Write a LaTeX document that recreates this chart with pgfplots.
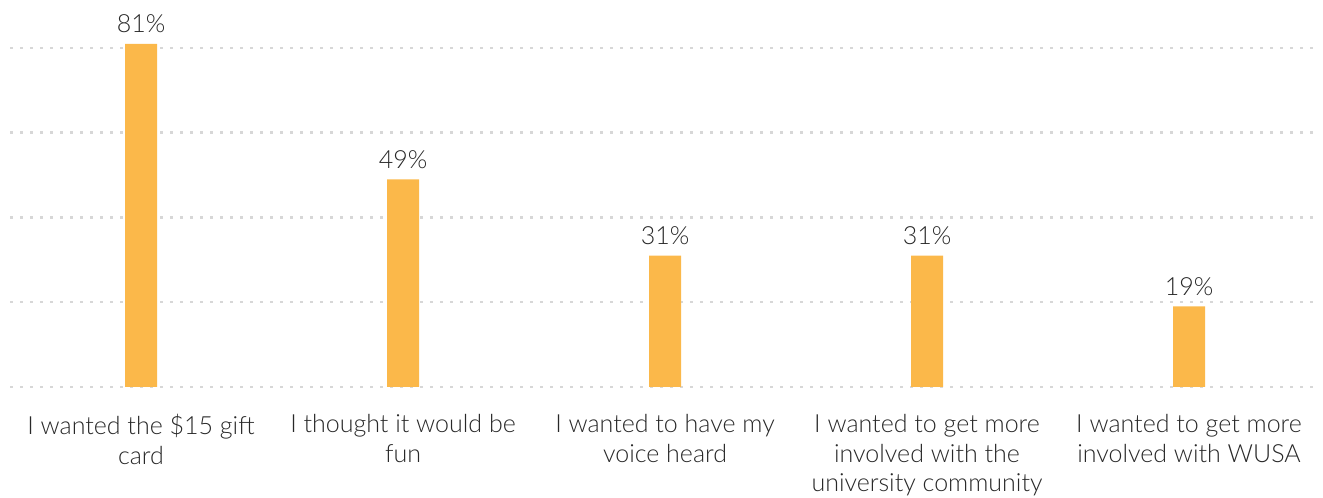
\documentclass[border=0pt]{standalone}
\usepackage{pgfplots}
\pgfplotsset{compat=1.18}
\usepackage{fontspec}
\setmainfont{Lato}[UprightFont=* Light]
\definecolor{barc}{RGB}{251,184,74}
\definecolor{txt}{RGB}{40,40,40}
\definecolor{gridc}{RGB}{215,215,215}
\begin{document}
\begin{tikzpicture}
\begin{axis}[
 scale only axis, width=1310pt, height=339pt,
 xmin=-0.5, xmax=4.5, ymin=0, ymax=80,
 axis line style={draw=none},
 ytick={0,20,40,60,80}, yticklabels={},
 ymajorgrids,
 major grid style={gridc, line width=2.5pt, dash pattern=on 2.5pt off 7.5pt},
 major tick length=0pt,
 xtick={0,1,2,3,4},
 xticklabels={{I wanted the \$15 gift\\card},{I thought it would be\\fun},{I wanted to have my\\voice heard},{I wanted to get more\\involved with the\\university community},{I wanted to get more\\involved with WUSA}},
 xticklabel style={align=center, font=\fontsize{25}{29.5}\selectfont, text=txt, yshift=-24pt},
 clip=false,
 ybar, bar width=32pt,
 /pgf/number format/assume math mode=true,
 nodes near coords={\pgfmathprintnumber{\pgfplotspointmeta}\%},
 nodes near coords style={font=\fontsize{25}{29}\selectfont, text=txt, anchor=base, yshift=11pt, inner sep=0pt},
]
\addplot[fill=barc, draw=none] coordinates {(0,81)(1,49)(2,31)(3,31)(4,19)};
\end{axis}
\pgfresetboundingbox
\path[use as bounding box] ([xshift=-10pt,yshift=-110pt]current axis.south west) rectangle ([xshift=3pt,yshift=48pt]current axis.north east);
\end{tikzpicture}
\end{document}
